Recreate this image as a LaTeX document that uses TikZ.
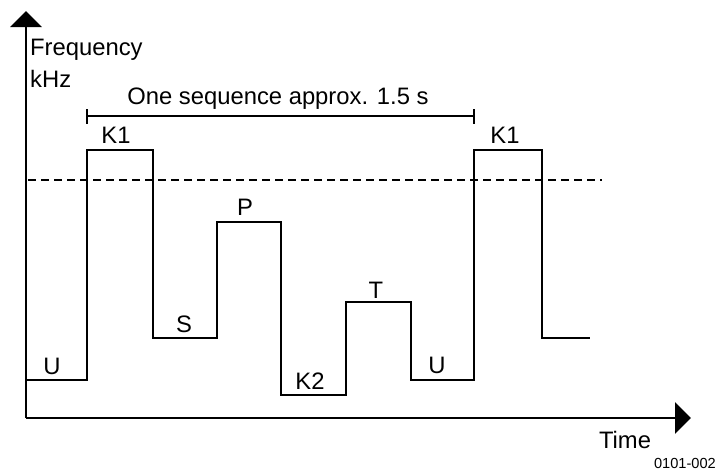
\documentclass[tikz,border=0pt]{standalone}
\usepackage{fontspec}
\setmainfont{Liberation Sans}
\usetikzlibrary{arrows.meta}
\begin{document}
\begin{tikzpicture}[x=1pt,y=-1pt,
  axisline/.style={line width=2.4pt,-{Triangle[length=16pt,width=31pt]}},
  signal/.style={line width=2.2pt,line join=miter},
  refline/.style={line width=1.1pt,dash pattern=on 8pt off 5pt},
  bracketline/.style={line width=1.2pt},
  lbl/.style={inner sep=0pt,anchor=base,font=\fontsize{23.8}{27}\selectfont},
  small/.style={inner sep=0pt,anchor=base east,font=\fontsize{14.6}{17}\selectfont}]
\useasboundingbox (0,0) rectangle (720,474);
% axes
\coordinate (origin) at (26,418);
\coordinate (ytip) at (26,11);
\coordinate (xtip) at (691,418);
\draw[axisline] (origin) -- (ytip);
\draw[axisline] (origin) -- (xtip);
% reference dashed line
\coordinate (d0) at (28,180);
\coordinate (d1) at (602,180);
\draw[refline] (d0) -- (d1);
% waveform
\coordinate (w0) at (26,380);
\coordinate (w1) at (87,380);
\coordinate (w2) at (87,150);
\coordinate (w3) at (153,150);
\coordinate (w4) at (153,338);
\coordinate (w5) at (217,338);
\coordinate (w6) at (217,222);
\coordinate (w7) at (281,222);
\coordinate (w8) at (281,395);
\coordinate (w9) at (346,395);
\coordinate (w10) at (346,302);
\coordinate (w11) at (411,302);
\coordinate (w12) at (411,380);
\coordinate (w13) at (474,380);
\coordinate (w14) at (474,150);
\coordinate (w15) at (542,150);
\coordinate (w16) at (542,338);
\coordinate (w17) at (590,338);
\draw[signal] (w0) -- (w1) -- (w2) -- (w3) -- (w4) -- (w5) -- (w6) -- (w7) -- (w8) -- (w9) -- (w10) -- (w11) -- (w12) -- (w13) -- (w14) -- (w15) -- (w16) -- (w17);
% sequence bracket
\coordinate (b0) at (87,116);
\coordinate (b1) at (474,116);
\coordinate (b0t) at (87,109);
\coordinate (b0b) at (87,124);
\coordinate (b1t) at (474,109);
\coordinate (b1b) at (474,124);
\draw[bracketline] (b0) -- (b1);
\draw[bracketline] (b0t) -- (b0b);
\draw[bracketline] (b1t) -- (b1b);
% labels
\node[lbl,anchor=base west] (freq) at (30,55) {Frequency};
\node[lbl,anchor=base west] (khz) at (30,87) {kHz};
\node[lbl] (seq) at (278,104) {One sequence approx. 1.5 s};
\node[lbl] (k1a) at (116,143) {K1};
\node[lbl] (k1b) at (505,143) {K1};
\node[lbl] (s) at (184,332) {S};
\node[lbl] (p) at (245,215) {P};
\node[lbl] (k2) at (310,389) {K2};
\node[lbl] (t) at (376,298) {T};
\node[lbl] (ua) at (52,374) {U};
\node[lbl] (ub) at (437,373) {U};
\node[lbl] (time) at (625,448) {Time};
\node[small] (code) at (716,468) {0101-002};
\end{tikzpicture}
\end{document}
